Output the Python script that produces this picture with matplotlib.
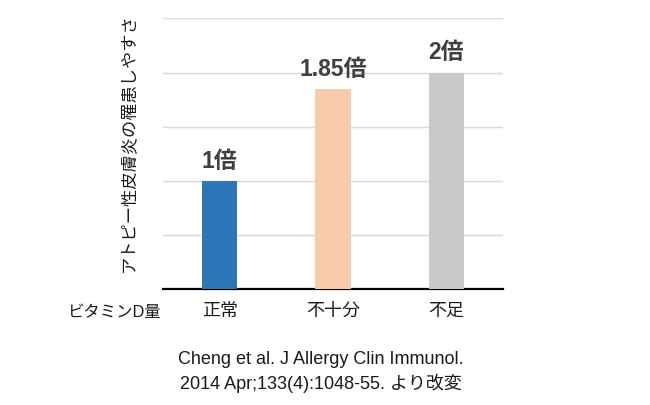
import matplotlib.pyplot as plt

plt.rcParams['font.family'] = ['Liberation Sans', 'Noto Sans CJK JP', 'DejaVu Sans']

categories = ['正常', '不十分', '不足']
values = [1.0, 1.85, 2.0]
bar_labels = ['1倍', '1.85倍', '2倍']
colors = ['#2E75B6', '#F8CBAD', '#C9C9C9']

W, H = 650, 405
fig = plt.figure(figsize=(6.5, 4.05), dpi=100)
fig.patch.set_facecolor('white')
ax = fig.add_axes([163 / W, 1 - 289.3 / H, 340 / W, 271 / H])

x = range(len(categories))
ax.bar(x, values, width=0.31, color=colors, zorder=3)
for xi, v, lab in zip(x, values, bar_labels):
    ax.text(xi, v + 0.18, lab, ha='center', va='center', fontsize=16.5,
            fontweight='bold', color='#404040')

ax.set_xlim(-0.5, 2.5)
ax.set_ylim(0, 2.5)
ax.set_yticks([0.5, 1.0, 1.5, 2.0, 2.5])
ax.set_yticklabels([])
ax.yaxis.grid(True, color='#D9D9D9', linewidth=1.0, zorder=0)
ax.set_axisbelow(True)
ax.set_xticks(list(x))
ax.set_xticklabels(categories, fontsize=13, color='#1a1a1a')
ax.tick_params(axis='both', length=0)
ax.tick_params(axis='x', pad=10)
for s in ['top', 'right', 'left']:
    ax.spines[s].set_visible(False)
ax.spines['bottom'].set_color('black')
ax.spines['bottom'].set_linewidth(1.6)

fig.text(128 / W, 1 - 143 / H, 'アトピー性皮膚炎の罹患しやすさ', rotation=90,
         ha='center', va='center', fontsize=12.4, color='#1a1a1a')
fig.text(162 / W, 1 - 312 / H, 'ビタミンD量', ha='right', va='center',
         fontsize=11.8, color='#1a1a1a')
fig.text(321 / W, 1 - 360 / H, 'Cheng et al. J Allergy Clin Immunol.',
         ha='center', va='center', fontsize=13, color='#1a1a1a')
fig.text(321 / W, 1 - 383 / H, '2014 Apr;133(4):1048-55. より改変',
         ha='center', va='center', fontsize=13, color='#1a1a1a')

fig.savefig('out.png', dpi=100, facecolor='white')
